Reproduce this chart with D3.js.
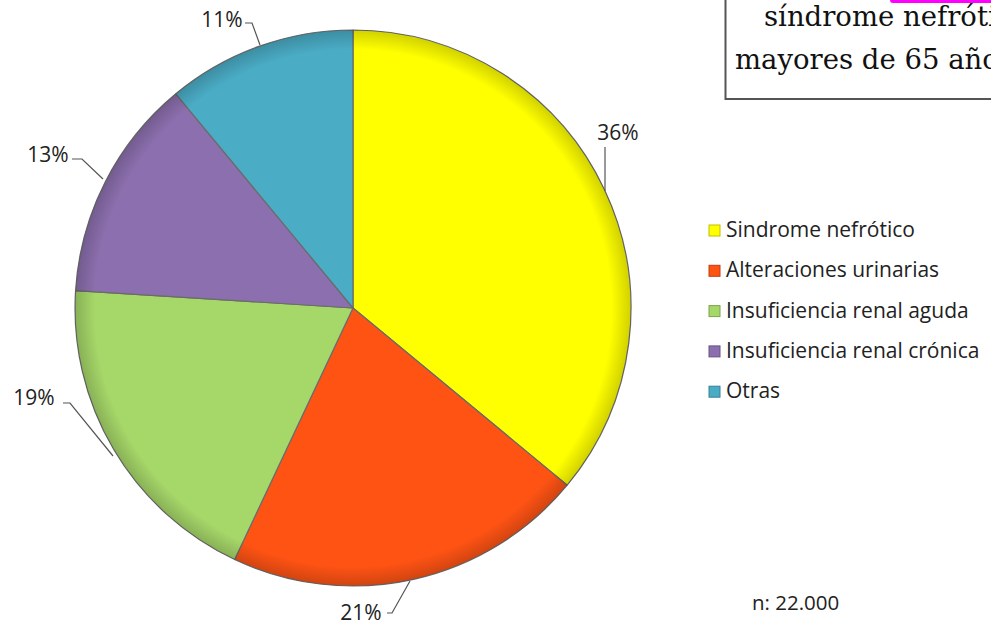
<!DOCTYPE html>
<html>
<head>
<meta charset="utf-8">
<script src="https://cdn.jsdelivr.net/npm/d3@7"></script>
<style>
  body { margin: 0; background: #fff; }
  svg { display: block; }
</style>
</head>
<body>
<svg width="991" height="626"></svg>
<script>
// data
var categories = ["Sindrome nefrótico", "Alteraciones urinarias", "Insuficiencia renal aguda", "Insuficiencia renal crónica", "Otras"];
var values = [36, 21, 19, 13, 11];
var colors = ["#ffff00", "#ff5314", "#a6d769", "#8c6fae", "#4aacc5"];
var labelText = ["36%", "21%", "19%", "13%", "11%"];

var svg = d3.select("svg"),
	cx = 353,
	cy = 308,
	radius = 278;

var defs = svg.append("defs");
var grad = defs.append("radialGradient")
	.attr("id", "shade")
	.attr("cx", "50%").attr("cy", "50%").attr("r", "50%");
grad.append("stop").attr("offset", "0.93").attr("stop-color", "#000").attr("stop-opacity", 0);
grad.append("stop").attr("offset", "1").attr("stop-color", "#000").attr("stop-opacity", 0.18);

// box with the cut-off title at top right
svg.append("rect")
	.attr("x", 890).attr("y", -6).attr("width", 110).attr("height", 9)
	.attr("rx", 3)
	.attr("fill", "#ff00ff");
svg.append("rect")
	.attr("x", 725.5).attr("y", -5).attr("width", 300).attr("height", 104)
	.attr("fill", "none")
	.attr("stroke", "#555")
	.attr("stroke-width", 2);
var titleLines = [["síndrome nefrótico", 764, 26], ["mayores de 65 años", 735, 69]];
svg.selectAll(".title")
	.data(titleLines)
	.enter().append("text")
	.attr("class", "title")
	.attr("x", d => d[1])
	.attr("y", d => d[2])
	.attr("font-family", "'DejaVu Serif', serif")
	.attr("font-size", 27.5)
	.attr("fill", "#111")
	.text(d => d[0]);

var pie = d3.pie().sort(null).value(d => d);
var arc = d3.arc().innerRadius(0).outerRadius(radius);
var arcs = pie(values);

var g = svg.append("g")
	.attr("transform", "translate(" + cx + "," + cy + ")");

g.selectAll(".slice")
	.data(arcs)
	.enter().append("path")
	.attr("class", "slice")
	.attr("d", arc)
	.attr("fill", (d, i) => colors[i])
	.attr("stroke", "#6b6b6b")
	.attr("stroke-width", 1.2)
	.attr("stroke-linejoin", "round");

g.append("circle")
	.attr("r", radius)
	.attr("fill", "url(#shade)")
	.attr("pointer-events", "none");

// labels with leader lines
var labelPos = [
	{ tx: 618, ty: 140, pts: [[605, 147], [605, 191]] },
	{ tx: 361, ty: 620, pts: [[387, 613], [392, 613], [410, 581]] },
	{ tx: 34, ty: 405, pts: [[63, 403], [70, 403], [113, 456]] },
	{ tx: 48, ty: 162, pts: [[72, 159], [82, 159], [103, 179]] },
	{ tx: 222, ty: 27, pts: [[245, 23], [252, 23], [260, 45]] }
];

svg.selectAll(".leader")
	.data(arcs)
	.enter().append("path")
	.attr("class", "leader")
	.attr("d", (d, i) => d3.line()(labelPos[i].pts))
	.attr("fill", "none")
	.attr("stroke", "#555")
	.attr("stroke-width", 1.2);

svg.selectAll(".plabel")
	.data(arcs)
	.enter().append("text")
	.attr("class", "plabel")
	.attr("x", (d, i) => labelPos[i].tx)
	.attr("y", (d, i) => labelPos[i].ty)
	.attr("text-anchor", "middle")
	.attr("font-family", "'Open Sans', sans-serif")
	.attr("font-size", 21)
	.attr("fill", "#222")
	.text((d, i) => labelText[i]);

// legend
var legend = svg.append("g")
	.attr("transform", "translate(709,225)");
var item = legend.selectAll(".item")
	.data(categories)
	.enter().append("g")
	.attr("class", "item")
	.attr("transform", (d, i) => "translate(0," + i * 40.3 + ")");
item.append("rect")
	.attr("width", 11).attr("height", 11)
	.attr("fill", (d, i) => colors[i])
	.attr("stroke", (d, i) => d3.color(colors[i]).darker(0.8))
	.attr("stroke-width", 1);
item.append("text")
	.attr("x", 17)
	.attr("y", 12)
	.attr("font-family", "'Open Sans', sans-serif")
	.attr("font-size", 21)
	.attr("fill", "#222")
	.text(d => d);

svg.append("text")
	.attr("x", 752).attr("y", 610)
	.attr("font-family", "'Open Sans', sans-serif")
	.attr("font-size", 20.5)
	.attr("fill", "#222")
	.text("n: 22.000");
</script>
</body>
</html>
